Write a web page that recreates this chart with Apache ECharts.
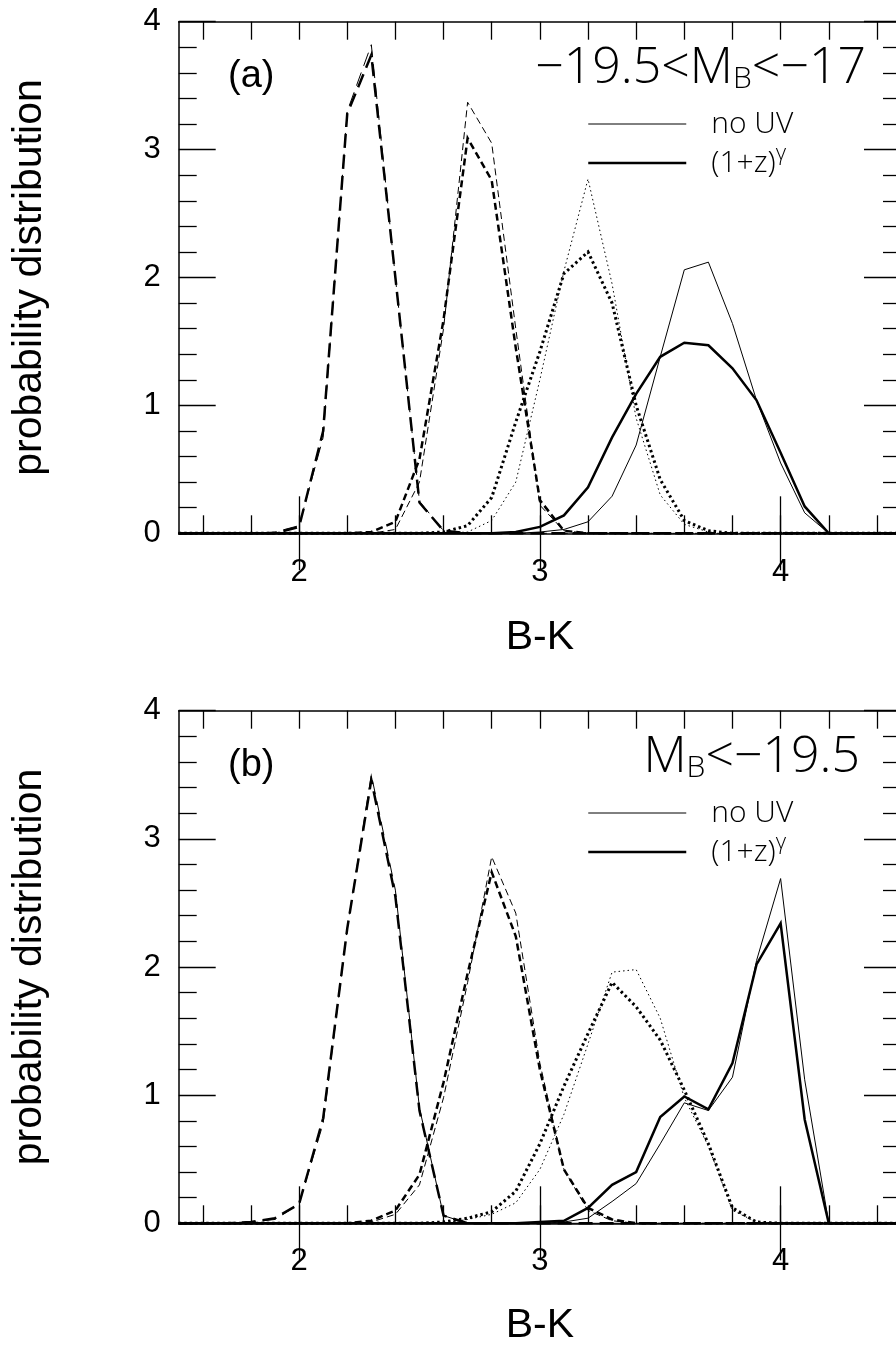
<!DOCTYPE html>
<html>
<head>
<meta charset="utf-8">
<script src="https://cdn.jsdelivr.net/npm/echarts@6/dist/echarts.min.js"></script>
<style>
  html, body { margin: 0; padding: 0; background: #fff; }
  #chart { width: 896px; height: 1346px; }
</style>
</head>
<body>
<div id="chart"></div>
<script>
// B-K bin centres
const BK = [1.5, 1.6, 1.7, 1.8, 1.9, 2.0, 2.1, 2.2, 2.3, 2.4, 2.5, 2.6, 2.7, 2.8, 2.9, 3.0,
            3.1, 3.2, 3.3, 3.4, 3.5, 3.6, 3.7, 3.8, 3.9, 4.0, 4.1, 4.2, 4.3, 4.4, 4.5];

// Panel (a): -19.5 < M_B < -17
const longNoUvA  = [0,0,0,0,0.01,0.06,0.75,3.30,3.82,2.00,0.25,0.02,0,0,0,0,0,0,0,0,0,0,0,0,0,0,0,0,0,0,0];
const longUvA    = [0,0,0,0,0,0.05,0.80,3.28,3.74,2.00,0.24,0.02,0,0,0,0,0,0,0,0,0,0,0,0,0,0,0,0,0,0,0];
const medNoUvA   = [0,0,0,0,0,0,0,0,0,0.03,0.40,1.60,3.37,3.05,1.60,0.22,0.02,0,0,0,0,0,0,0,0,0,0,0,0,0,0];
const medUvA     = [0,0,0,0,0,0,0,0,0.01,0.09,0.58,1.67,3.09,2.76,1.45,0.26,0.02,0,0,0,0,0,0,0,0,0,0,0,0,0,0];
const dotNoUvA   = [0,0,0,0,0,0,0,0,0,0,0,0,0.01,0.10,0.40,1.20,2.05,2.77,1.95,0.90,0.30,0.07,0.01,0,0,0,0,0,0,0,0];
const dotUvA     = [0,0,0,0,0,0,0,0,0,0,0,0.01,0.06,0.28,0.87,1.42,2.03,2.20,1.80,1.00,0.42,0.10,0.02,0,0,0,0,0,0,0,0];
const solidNoUvA = [0,0,0,0,0,0,0,0,0,0,0,0,0,0,0,0.01,0.03,0.09,0.29,0.69,1.38,2.06,2.12,1.64,1.04,0.55,0.16,0,0,0,0];
const solidUvA   = [0,0,0,0,0,0,0,0,0,0,0,0,0,0,0.01,0.05,0.14,0.36,0.75,1.09,1.38,1.49,1.47,1.29,1.04,0.63,0.21,0,0,0,0];

// Panel (b): M_B < -19.5
const longNoUvB  = [0,0,0,0.01,0.03,0.15,0.78,2.30,3.50,2.60,0.90,0.06,0,0,0,0,0,0,0,0,0,0,0,0,0,0,0,0,0,0,0];
const longUvB    = [0,0,0,0.01,0.04,0.15,0.82,2.30,3.46,2.55,0.88,0.06,0,0,0,0,0,0,0,0,0,0,0,0,0,0,0,0,0,0,0];
const medNoUvB   = [0,0,0,0,0,0,0,0,0.01,0.07,0.30,0.98,1.88,2.86,2.42,1.25,0.42,0.10,0.02,0,0,0,0,0,0,0,0,0,0,0,0];
const medUvB     = [0,0,0,0,0,0,0,0,0.02,0.10,0.38,1.10,1.95,2.74,2.24,1.20,0.42,0.12,0.03,0,0,0,0,0,0,0,0,0,0,0,0];
const dotNoUvB   = [0,0,0,0,0,0,0,0,0,0,0,0,0.03,0.07,0.16,0.42,0.85,1.40,1.96,1.98,1.60,0.98,0.60,0.10,0.01,0,0,0,0,0,0];
const dotUvB     = [0,0,0,0,0,0,0,0,0,0,0,0.01,0.04,0.09,0.25,0.62,1.07,1.48,1.88,1.69,1.43,1.04,0.62,0.12,0.01,0,0,0,0,0,0];
const solidNoUvB = [0,0,0,0,0,0,0,0,0,0,0,0,0,0,0,0,0.01,0.04,0.17,0.31,0.62,0.94,0.88,1.14,2.05,2.69,1.12,0,0,0,0];
const solidUvB   = [0,0,0,0,0,0,0,0,0,0,0,0,0,0,0,0.01,0.02,0.12,0.30,0.40,0.83,0.99,0.89,1.25,2.02,2.34,0.81,0,0,0,0];

const Y_TICKS = [0, 1, 2, 3, 4];
const LEGEND_NAMES = ['no UV', '(1+z)^γ'];

const AXIS_FONT = '"Liberation Sans", Arial, Helvetica, sans-serif';
const PLOT_FONT = '"Open Sans", "Liberation Sans", sans-serif';
const INK = '#000';

// stroke patterns: thin = no UV, thick = (1+z)^gamma
const THIN = 1, THICK = 2.5;
const PATTERN = {
  longDash:  { thin: [14, 7], thick: [14, 7] },
  medDash:   { thin: [7, 4],  thick: [7, 4] },
  dotted:    { thin: [1.5, 3], thick: [2.5, 3] },
  solid:     { thin: 'solid', thick: 'solid' }
};

const isMajor = (i, v) => Math.abs(Number(v) - Math.round(Number(v))) < 1e-6;
const isMinor = (i, v) => Math.round(Number(v) * 10) % 2 === 0;

function curve(name, data, panel, pattern, thick) {
  return {
    type: 'line', name, data,
    xAxisIndex: panel * 4, yAxisIndex: panel * 2,
    symbol: 'none', silent: true, animation: false, clip: false,
    lineStyle: {
      color: INK, width: thick ? (pattern === 'dotted' ? 3 : THICK) : THIN,
      type: PATTERN[pattern][thick ? 'thick' : 'thin'], cap: 'butt', join: 'miter'
    },
    itemStyle: { color: INK }
  };
}

function xAxes(panel, labelMargin, nameGap) {
  const base = {
    gridIndex: panel, type: 'category', data: BK, boundaryGap: false,
    splitLine: { show: false }, axisPointer: { show: false }
  };
  const line = { show: true, onZero: false, lineStyle: { color: INK, width: 1.5 } };
  const tick = (len, fn) => ({ show: true, inside: true, length: len, interval: fn,
                               lineStyle: { color: INK, width: 1.3 } });
  return [
    Object.assign({}, base, {
      position: 'bottom', axisLine: line, axisTick: tick(18, isMinor),
      axisLabel: { show: true, interval: isMajor, margin: labelMargin, color: INK,
                   fontFamily: AXIS_FONT, fontSize: 31 },
      name: 'B-K', nameLocation: 'middle', nameGap: nameGap, nameMoveOverlap: false,
      nameTextStyle: { color: INK, fontFamily: AXIS_FONT, fontSize: 41 }
    }),
    Object.assign({}, base, {
      position: 'bottom', axisLine: { show: false }, axisTick: tick(37, isMajor),
      axisLabel: { show: false }
    }),
    Object.assign({}, base, {
      position: 'top', axisLine: line, axisTick: tick(18, isMinor), axisLabel: { show: false }
    }),
    Object.assign({}, base, {
      position: 'top', axisLine: { show: false }, axisTick: tick(37, isMajor), axisLabel: { show: false }
    })
  ];
}

function yAxes(panel, nameGap) {
  const common = {
    gridIndex: panel, type: 'value',
    min: Y_TICKS[0], max: Y_TICKS[Y_TICKS.length - 1], interval: 1,
    splitLine: { show: false },
    axisLine: { show: true, onZero: false, lineStyle: { color: INK, width: 1.5 } },
    axisTick: { show: true, inside: true, length: 37, lineStyle: { color: INK, width: 1.3 } },
    minorTick: { show: true, splitNumber: 5, length: 18, lineStyle: { color: INK, width: 1.3 } }
  };
  return [
    Object.assign({}, common, {
      position: 'left',
      axisLabel: { show: true, margin: 18, color: INK, fontFamily: AXIS_FONT, fontSize: 31,
                   padding: [6, 0, 0, 0] },
      name: 'probability distribution', nameLocation: 'middle', nameGap: nameGap,
      nameMoveOverlap: false,
      nameTextStyle: { color: INK, fontFamily: AXIS_FONT, fontSize: 41 }
    }),
    Object.assign({}, common, { position: 'right', axisLabel: { show: false } })
  ];
}

function panelSeries(panel, d) {
  return [
    curve(LEGEND_NAMES[0], d.solidNoUv, panel, 'solid', false),
    curve(LEGEND_NAMES[1], d.solidUv, panel, 'solid', true),
    curve('long dash, no UV', d.longNoUv, panel, 'longDash', false),
    curve('long dash, (1+z)^γ', d.longUv, panel, 'longDash', true),
    curve('short dash, no UV', d.medNoUv, panel, 'medDash', false),
    curve('short dash, (1+z)^γ', d.medUv, panel, 'medDash', true),
    curve('dotted, no UV', d.dotNoUv, panel, 'dotted', false),
    curve('dotted, (1+z)^γ', d.dotUv, panel, 'dotted', true)
  ];
}

// rows are 40 px tall text boxes; a -1 gap puts the rows 39 px apart
function legend(top) {
  return {
    left: 587, top: top, orient: 'vertical', padding: 0,
    itemWidth: 98, itemHeight: 30, itemGap: -1, selectedMode: false,
    itemStyle: { opacity: 0 },
    data: [
      { name: LEGEND_NAMES[0], lineStyle: { width: THIN, color: INK, type: 'solid' } },
      { name: LEGEND_NAMES[1], lineStyle: { width: THICK, color: INK, type: 'solid' } }
    ],
    formatter: n => n === LEGEND_NAMES[1] ? '(1+z){sup|γ}' : n,
    textStyle: {
      color: INK, fontFamily: PLOT_FONT, fontWeight: 300, fontSize: 30, lineHeight: 40,
      padding: [0, 0, 0, 20],
      rich: { sup: { color: INK, fontFamily: PLOT_FONT, fontWeight: 300, fontSize: 22,
                     lineHeight: 12, verticalAlign: 'top' } }
    }
  };
}

function rangeTitle(text, right, top) {
  return {
    text, right, top, padding: 0,
    textStyle: {
      color: INK, fontFamily: PLOT_FONT, fontWeight: 300, fontSize: 50, lineHeight: 50,
      rich: { sub: { color: INK, fontFamily: PLOT_FONT, fontWeight: 300, fontSize: 30,
                     lineHeight: 16, verticalAlign: 'bottom' } }
    }
  };
}

function panelTitle(text, top) {
  return {
    text, left: 228, top, padding: 0,
    textStyle: { color: INK, fontFamily: AXIS_FONT, fontWeight: 'normal', fontSize: 38, lineHeight: 38 }
  };
}

const chart = echarts.init(document.getElementById('chart'), null, { renderer: 'canvas' });
chart.setOption({
  backgroundColor: '#fff',
  animation: false,
  textStyle: { fontFamily: AXIS_FONT },
  grid: [
    { left: 178.7, top: 21.7, width: 722.3, height: 511.6, outerBoundsMode: 'none', containLabel: false },
    { left: 178.7, top: 710.7, width: 722.3, height: 512.6, outerBoundsMode: 'none', containLabel: false }
  ],
  title: [
    panelTitle('(a)', 58),
    rangeTitle('−19.5<M{sub|B}<−17', 30, 44),
    panelTitle('(b)', 747),
    rangeTitle('M{sub|B}<−19.5', 36, 733)
  ],
  legend: [legend(104), legend(793)],
  xAxis: [].concat(xAxes(0, 24, 83.4), xAxes(1, 22.5, 81.4)),
  yAxis: [].concat(yAxes(0, 128.7), yAxes(1, 128.7)),
  series: [].concat(
    panelSeries(0, { solidNoUv: solidNoUvA, solidUv: solidUvA, longNoUv: longNoUvA, longUv: longUvA,
                     medNoUv: medNoUvA, medUv: medUvA, dotNoUv: dotNoUvA, dotUv: dotUvA }),
    panelSeries(1, { solidNoUv: solidNoUvB, solidUv: solidUvB, longNoUv: longNoUvB, longUv: longUvB,
                     medNoUv: medNoUvB, medUv: medUvB, dotNoUv: dotNoUvB, dotUv: dotUvB })
  )
});
</script>
</body>
</html>
